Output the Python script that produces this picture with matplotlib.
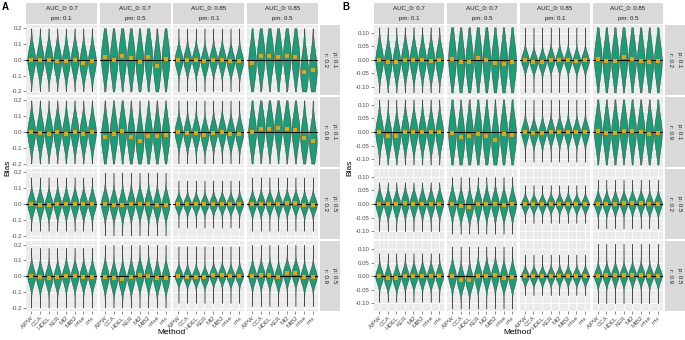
import numpy as np
import matplotlib
matplotlib.use("Agg")
import matplotlib.pyplot as plt

plt.rcParams['font.family'] = ['Liberation Sans', 'DejaVu Sans']

methods = ["AIPW", "CCA", "HDEL", "KER", "MI2", "MIB2", "mise", "mix"]
auc_labels = ["AUC_0: 0.7", "AUC_0: 0.7", "AUC_0: 0.85", "AUC_0: 0.85"]
pm_labels = ["pm: 0.1", "pm: 0.5", "pm: 0.1", "pm: 0.5"]
p_labels = ["p: 0.1", "p: 0.1", "p: 0.5", "p: 0.5"]
r_labels = ["r: 0.2", "r: 0.9", "r: 0.2", "r: 0.9"]

# ---------------- Panel A: mean bias (orange points) per facet [row][col][method]
a_means = [
    [[0.0, -0.004, 0.0, -0.006, -0.008, 0.0, -0.017, -0.008],
     [0.017, -0.002, 0.021, 0.010, -0.015, 0.019, -0.038, 0.008],
     [0.0, 0.0, 0.0, -0.01, 0.0, 0.0, -0.01, -0.01],
     [-0.02, 0.021, 0.027, 0.017, 0.023, 0.015, -0.075, -0.067]],
    [[0.0, -0.005, -0.01, 0.0, -0.01, 0.0, -0.01, 0.0],
     [-0.031, -0.010, 0.004, -0.035, -0.058, -0.023, -0.027, -0.021],
     [0.0, -0.008, -0.006, -0.017, -0.005, 0.0, -0.01, -0.01],
     [0.0, 0.02, 0.02, 0.025, 0.02, 0.01, -0.038, -0.06]],
    [[0.0, -0.003, -0.003, 0.0, 0.0, 0.0, -0.002, 0.0],
     [0.0, -0.005, -0.005, 0.0, 0.003, 0.0, -0.005, -0.003],
     [0.0, 0.0, 0.0, 0.0, 0.002, 0.002, 0.0, 0.0],
     [0.0, 0.003, 0.003, 0.0, 0.005, 0.005, -0.005, -0.003]],
    [[0.0, -0.008, -0.01, -0.008, 0.002, 0.0, -0.002, -0.002],
     [-0.004, -0.0125, -0.017, -0.008, 0.006, 0.002, -0.0125, -0.01],
     [0.004, -0.002, -0.002, -0.008, 0.006, 0.008, 0.0, 0.004],
     [0.004, 0.008, 0.01, -0.006, 0.018, 0.018, -0.006, -0.002]],
]
# spread of the bias distribution per facet [row][col]
a_sd = [[0.075, 0.11, 0.055, 0.11],
        [0.08, 0.10, 0.06, 0.10],
        [0.05, 0.055, 0.035, 0.04],
        [0.05, 0.055, 0.035, 0.045]]
a_lo = [[-0.2, -0.2, -0.2, -0.2],
        [-0.2, -0.2, -0.2, -0.2],
        [-0.17, -0.2, -0.15, -0.17],
        [-0.2, -0.2, -0.17, -0.19]]
a_hi = [[0.2, 0.2, 0.2, 0.2],
        [0.2, 0.2, 0.2, 0.2],
        [0.17, 0.2, 0.15, 0.17],
        [0.18, 0.2, 0.19, 0.2]]

# ---------------- Panel B
b_means = [
    [[0.0, -0.009, -0.009, 0.0, 0.0, 0.0, -0.004, -0.001],
     [0.004, -0.009, -0.009, 0.005, 0.0, -0.011, -0.015, -0.008],
     [0.0, -0.0075, -0.0075, 0.0, 0.0, -0.0025, -0.005, -0.0025],
     [0.004, -0.004, -0.004, 0.009, 0.004, -0.003, -0.009, -0.006]],
    [[0.0, -0.016, -0.016, 0.0, 0.0, -0.002, -0.002, -0.002],
     [-0.003, -0.02, -0.014, -0.006, -0.016, -0.03, -0.008, -0.01],
     [0.0, -0.005, -0.005, 0.0, 0.0, 0.0, -0.002, 0.0],
     [0.003, -0.005, -0.005, 0.005, 0.003, -0.002, -0.008, -0.005]],
    [[0.002, -0.001, -0.001, 0.004, 0.002, 0.002, 0.001, 0.002],
     [0.002, -0.006, -0.009, 0.0, 0.0, 0.0, -0.004, -0.001],
     [0.0, 0.0, 0.0, 0.002, 0.002, 0.002, 0.0, 0.0],
     [0.002, 0.002, 0.002, 0.003, 0.004, 0.004, 0.0, 0.001]],
    [[0.0, -0.0075, -0.0075, 0.0, 0.0, 0.0, 0.0, 0.0],
     [0.0, -0.014, -0.015, 0.0, 0.002, 0.004, -0.005, -0.004],
     [0.0, 0.0, 0.0, 0.001, 0.001, 0.001, 0.0, 0.0],
     [0.002, 0.003, 0.004, 0.003, 0.005, 0.005, 0.001, 0.002]],
]
b_sd = [[0.045, 0.07, 0.025, 0.065],
        [0.045, 0.065, 0.028, 0.06],
        [0.028, 0.032, 0.018, 0.022],
        [0.025, 0.03, 0.018, 0.022]]
b_lo = [[-0.12, -0.12, -0.12, -0.12],
        [-0.12, -0.12, -0.11, -0.12],
        [-0.10, -0.11, -0.07, -0.09],
        [-0.095, -0.12, -0.07, -0.10]]
b_hi = [[0.12, 0.12, 0.12, 0.12],
        [0.12, 0.12, 0.12, 0.12],
        [0.08, 0.10, 0.07, 0.09],
        [0.085, 0.11, 0.08, 0.12]]

a_ticks = [-0.2, -0.1, 0.0, 0.1, 0.2]
a_ticklabels = ["-0.2", "-0.1", "0.0", "0.1", "0.2"]
b_ticks = [-0.10, -0.05, 0.0, 0.05, 0.10]
b_ticklabels = ["-0.10", "-0.05", "0.00", "0.05", "0.10"]

W, H = 685, 340
fig = plt.figure(figsize=(W / 100, H / 100), dpi=100)

FILL = "#1B9E77"
EDGE = "#2b2b2b"
DOT = "#F0A000"
PANEL_BG = "#EBEBEB"
STRIP_BG = "#D9D9D9"
FS_SMALL = 4.4


def px_axes(x0, y0, w, h):
    return fig.add_axes([x0 / W, 1 - (y0 + h) / H, w / W, h / H])


def clean(ax):
    for s in ax.spines.values():
        s.set_visible(False)


def draw_panel(left, right, means, sds, los, his, ylim, ticks, ticklabels):
    top, bottom, gap = 25, 311, 2.5
    pw = (right - left - 3 * gap) / 4
    ph = (bottom - top - 3 * gap) / 4
    minor = [(ticks[k] + ticks[k + 1]) / 2 for k in range(len(ticks) - 1)]
    xs = np.arange(1, len(methods) + 1)
    for r in range(4):
        for c in range(4):
            x0 = left + c * (pw + gap)
            y0 = top + r * (ph + gap)
            ax = px_axes(x0, y0, pw, ph)
            ax.set_facecolor(PANEL_BG)
            clean(ax)
            ax.set_xlim(0.4, len(methods) + 0.6)
            ax.set_ylim(-ylim, ylim)
            ax.set_yticks(ticks)
            ax.set_yticks(minor, minor=True)
            ax.set_xticks(xs)
            ax.grid(which='major', color='white', lw=0.6)
            ax.grid(which='minor', axis='y', color='white', lw=0.3)
            ax.set_axisbelow(True)
            for i, m in enumerate(means[r][c]):
                s = sds[r][c]
                lo = max(los[r][c], m - 6 * s)
                hi = min(his[r][c], m + 6 * s)
                y = np.linspace(lo, hi, 300)
                d = np.exp(-0.5 * ((y - m) / s) ** 2)
                w = 0.45 * d / d.max()
                ax.fill_betweenx(y, xs[i] - w, xs[i] + w, facecolor=FILL,
                                 edgecolor=EDGE, lw=0.3, zorder=2)
            ax.axhline(0, color='black', lw=0.7, zorder=3)
            ax.scatter(xs, means[r][c], s=5, marker='s', color=DOT,
                       lw=0, zorder=4)
            ax.tick_params(which='minor', length=0)
            if c == 0:
                ax.set_yticklabels(ticklabels)
                ax.tick_params(axis='y', which='major', length=2, width=0.4,
                               color='#333333', labelsize=FS_SMALL,
                               labelcolor='#4D4D4D', pad=1)
            else:
                ax.tick_params(axis='y', which='both', length=0,
                               labelleft=False)
            if r == 3:
                ax.set_xticklabels(methods, rotation=45, ha='right',
                                   rotation_mode='anchor')
                ax.tick_params(axis='x', which='major', length=2, width=0.4,
                               color='#333333', labelsize=FS_SMALL,
                               labelcolor='#4D4D4D', pad=1)
            else:
                ax.tick_params(axis='x', which='both', length=0,
                               labelbottom=False)
            # top strips
            if r == 0:
                sax = px_axes(x0, 2.5, pw, 21)
                sax.set_facecolor(STRIP_BG)
                clean(sax)
                sax.set_xticks([])
                sax.set_yticks([])
                sax.text(0.5, 0.76, auc_labels[c], ha='center', va='center',
                         fontsize=FS_SMALL, color='#1A1A1A',
                         transform=sax.transAxes)
                sax.text(0.5, 0.26, pm_labels[c], ha='center', va='center',
                         fontsize=FS_SMALL, color='#1A1A1A',
                         transform=sax.transAxes)
            # right strips
            if c == 3:
                rax = px_axes(right + 1.5, y0, 20.5, ph)
                rax.set_facecolor(STRIP_BG)
                clean(rax)
                rax.set_xticks([])
                rax.set_yticks([])
                rax.text(0.74, 0.5, p_labels[r], ha='center', va='center',
                         rotation=-90, fontsize=FS_SMALL, color='#1A1A1A',
                         transform=rax.transAxes)
                rax.text(0.27, 0.5, r_labels[r], ha='center', va='center',
                         rotation=-90, fontsize=FS_SMALL, color='#1A1A1A',
                         transform=rax.transAxes)
    return top, bottom


def fig_text(x, y, s, **kw):
    fig.text(x / W, 1 - y / H, s, **kw)


draw_panel(26, 318, a_means, a_sd, a_lo, a_hi, 0.22, a_ticks, a_ticklabels)
draw_panel(374, 663, b_means, b_sd, b_lo, b_hi, 0.128, b_ticks, b_ticklabels)

fig_text(5.5, 6.5, "A", fontsize=7, fontweight='bold', ha='center', va='center')
fig_text(346, 6.5, "B", fontsize=7, fontweight='bold', ha='center', va='center')
fig_text(8, 168, "Bias", fontsize=6, rotation=90, ha='center', va='center')
fig_text(349.5, 168, "Bias", fontsize=6, rotation=90, ha='center', va='center')
fig_text(172, 333, "Method", fontsize=6, ha='center', va='center')
fig_text(518, 333, "Method", fontsize=6, ha='center', va='center')

fig.savefig("out.png", dpi=100)
